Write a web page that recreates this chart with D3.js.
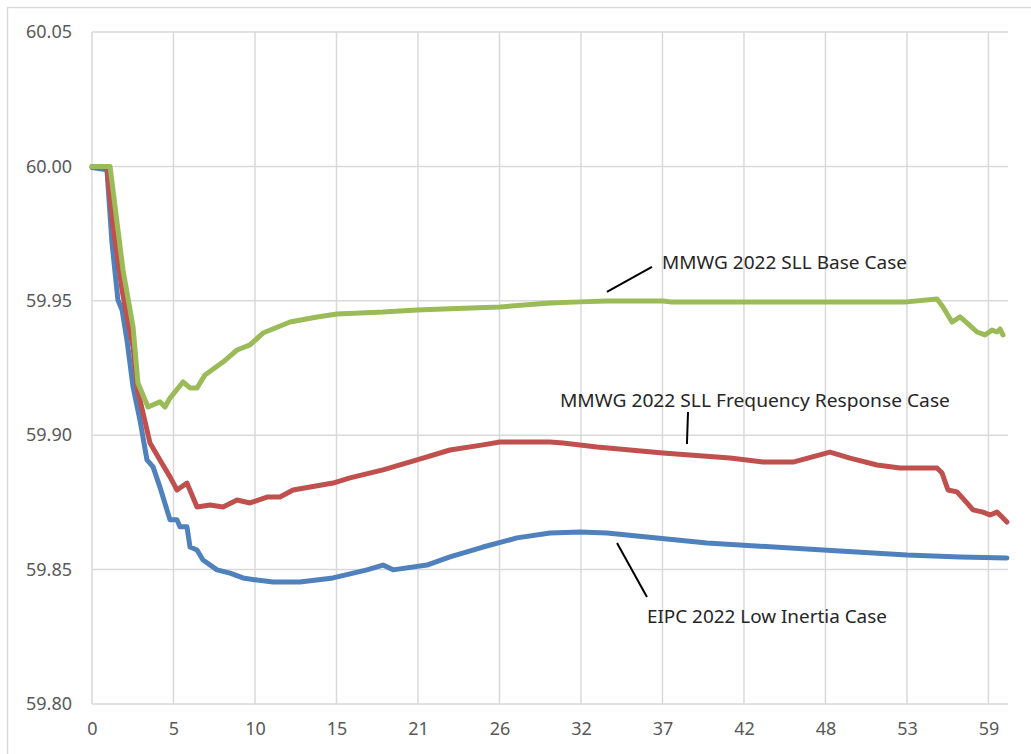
<!DOCTYPE html>
<html>
<head>
<meta charset="utf-8">
<script src="https://cdn.jsdelivr.net/npm/d3@7"></script>
<style>
  body { margin: 0; background: #fff; }
  svg { display: block; }
</style>
</head>
<body>
<div id="chart"></div>
<script>
// frequency traces, time in seconds, frequency in Hz

const tickLabels = ['0', '5', '10', '15', '21', '26', '32', '37', '42', '48', '53', '59'];
const yTicks = [59.80, 59.85, 59.90, 59.95, 60.00, 60.05];

const lowInertiaT = [0, 0.98, 1.31, 1.70, 1.97, 2.29, 2.69, 3.14, 3.60, 4.00, 4.45, 5.11, 5.57, 5.76, 6.22, 6.42, 6.88, 7.27, 8.19, 9.04, 9.89, 10.81, 11.86, 13.62, 15.79, 18.01, 19.06, 19.72, 21.94, 23.45, 25.61, 27.84, 30.0, 31.96, 33.73, 40.28, 47.88, 53.38, 56.86, 59.93];
const lowInertiaF = [59.9996, 59.9987, 59.9715, 59.9503, 59.9466, 59.9354, 59.9179, 59.9057, 59.8908, 59.8882, 59.8807, 59.8685, 59.8685, 59.8659, 59.8659, 59.8584, 59.8573, 59.8536, 59.8499, 59.8487, 59.8469, 59.8461, 59.8454, 59.8454, 59.8469, 59.8499, 59.8517, 59.8499, 59.8517, 59.8547, 59.8584, 59.8618, 59.8636, 59.8640, 59.8636, 59.8599, 59.8573, 59.8554, 59.8547, 59.8543];

const freqRespT = [0, 0.98, 1.38, 1.97, 2.29, 2.69, 2.95, 3.34, 3.80, 4.45, 5.11, 5.57, 6.22, 6.88, 7.73, 8.58, 9.50, 10.35, 11.46, 12.31, 13.17, 15.79, 16.90, 19.06, 21.29, 23.45, 25.61, 26.72, 30.0, 30.85, 33.08, 37.40, 41.79, 43.95, 45.92, 48.34, 49.65, 51.42, 52.93, 55.35, 55.68, 56.07, 56.66, 57.31, 57.71, 58.36, 58.82, 59.28, 59.61, 59.93];
const freqRespF = [60.0000, 59.9996, 59.9775, 59.9540, 59.9440, 59.9328, 59.9179, 59.9083, 59.8971, 59.8908, 59.8845, 59.8796, 59.8822, 59.8733, 59.8740, 59.8733, 59.8759, 59.8748, 59.8770, 59.8770, 59.8796, 59.8822, 59.8841, 59.8871, 59.8908, 59.8945, 59.8964, 59.8975, 59.8975, 59.8971, 59.8956, 59.8934, 59.8915, 59.8900, 59.8900, 59.8937, 59.8915, 59.8889, 59.8878, 59.8878, 59.8859, 59.8796, 59.8789, 59.8748, 59.8722, 59.8714, 59.8703, 59.8714, 59.8696, 59.8677];

const baseT = [0, 1.18, 2.03, 2.69, 3.01, 3.67, 4.45, 4.78, 5.11, 5.96, 6.42, 6.88, 7.40, 8.58, 9.50, 10.35, 11.20, 12.97, 14.74, 16.05, 19.06, 21.29, 23.45, 26.72, 30.0, 31.96, 33.73, 37.40, 37.86, 48.34, 53.38, 55.35, 55.74, 56.33, 56.86, 57.31, 57.97, 58.49, 58.95, 59.28, 59.48, 59.67];
const baseF = [60.0000, 60.0000, 59.9615, 59.9403, 59.9194, 59.9105, 59.9124, 59.9105, 59.9138, 59.9198, 59.9176, 59.9176, 59.9224, 59.9272, 59.9317, 59.9336, 59.9380, 59.9421, 59.9440, 59.9451, 59.9458, 59.9466, 59.9470, 59.9477, 59.9492, 59.9496, 59.9499, 59.9499, 59.9496, 59.9496, 59.9496, 59.9507, 59.9477, 59.9421, 59.9440, 59.9418, 59.9384, 59.9373, 59.9391, 59.9384, 59.9395, 59.9373];

const seriesNames = ['EIPC 2022 Low Inertia Case', 'MMWG 2022 SLL Frequency Response Case', 'MMWG 2022 SLL Base Case'];
const seriesColors = ['#4f81bd', '#c0504d', '#9bbb59'];

const width = 1031, height = 754;
const margin = { left: 92, top: 32, right: 23, bottom: 50 };

const svg = d3.select('#chart').append('svg')
  .attr('width', width)
  .attr('height', height);

// chart area border (Excel style)
svg.append('rect')
  .attr('x', 7.5).attr('y', 7.5)
  .attr('width', 1040).attr('height', 770)
  .attr('fill', 'none')
  .attr('stroke', '#d9d9d9')
  .attr('stroke-width', 1.5);

const x = d3.scaleLinear().domain([0, 60]).range([margin.left, width - margin.right]);
const y = d3.scaleLinear().domain([59.80, 60.05]).range([height - margin.bottom, margin.top]);

// category labels are spaced evenly, ~5.34 s apart
const labelStep = 60 / 11.24;
const xTicks = tickLabels.map((d, i) => i * labelStep);

// gridlines
const grid = svg.append('g').attr('stroke', '#d9d9d9').attr('stroke-width', 1.5);
grid.selectAll('line.h').data(yTicks).enter().append('line')
  .attr('x1', x(0)).attr('x2', x(60))
  .attr('y1', d => y(d)).attr('y2', d => y(d));
grid.selectAll('line.v').data(xTicks).enter().append('line')
  .attr('x1', d => x(d)).attr('x2', d => x(d))
  .attr('y1', y(59.80)).attr('y2', y(60.05));

// axes text
const yAxis = d3.axisLeft(y).tickValues(yTicks).tickFormat(d3.format('.2f')).tickSize(0).tickPadding(20);
const gy = svg.append('g').attr('transform', `translate(${margin.left},0)`).call(yAxis);
gy.select('.domain').remove();
gy.selectAll('text').attr('fill', '#595959').style('font-family', 'Noto Sans, sans-serif').style('font-size', '18px');

const xAxis = d3.axisBottom(x).tickValues(xTicks).tickFormat((d, i) => tickLabels[i]).tickSize(0).tickPadding(18);
const gx = svg.append('g').attr('transform', `translate(0,${y(59.80)})`).call(xAxis);
gx.select('.domain').remove();
gx.selectAll('text').attr('fill', '#595959').style('font-family', 'Noto Sans, sans-serif').style('font-size', '18px');

// series
const line = d3.line().x(d => x(d[0])).y(d => y(d[1]));
const series = [
  d3.zip(lowInertiaT, lowInertiaF),
  d3.zip(freqRespT, freqRespF),
  d3.zip(baseT, baseF)
];
svg.append('g').selectAll('path').data(series).enter().append('path')
  .attr('d', line)
  .attr('fill', 'none')
  .attr('stroke', (d, i) => seriesColors[i])
  .attr('stroke-width', 5)
  .attr('stroke-linejoin', 'round')
  .attr('stroke-linecap', 'round');

// annotations: label position and leader line (in data units)
const notes = [
  { text: seriesNames[2], t: 37.34, f: 59.9618, w: 245, line: [[33.73, 59.9533], [36.68, 59.9626]] },
  { text: seriesNames[1], t: 30.65, f: 59.9105, w: 390, line: [[39.04, 59.9086], [38.97, 59.8967]] },
  { text: seriesNames[0], t: 36.35, f: 59.8301, w: 240, line: [[34.39, 59.8599], [36.35, 59.8398]] }
];
const ann = svg.append('g');
ann.selectAll('line').data(notes).enter().append('line')
  .attr('x1', d => x(d.line[0][0])).attr('y1', d => y(d.line[0][1]))
  .attr('x2', d => x(d.line[1][0])).attr('y2', d => y(d.line[1][1]))
  .attr('stroke', '#000').attr('stroke-width', 2);
ann.selectAll('text').data(notes).enter().append('text')
  .attr('x', d => x(d.t)).attr('y', d => y(d.f))
  .attr('textLength', d => d.w)
  .attr('lengthAdjust', 'spacingAndGlyphs')
  .attr('fill', '#262626')
  .style('font-family', 'Noto Sans, sans-serif')
  .style('font-size', '18px')
  .text(d => d.text);
</script>
</body>
</html>
